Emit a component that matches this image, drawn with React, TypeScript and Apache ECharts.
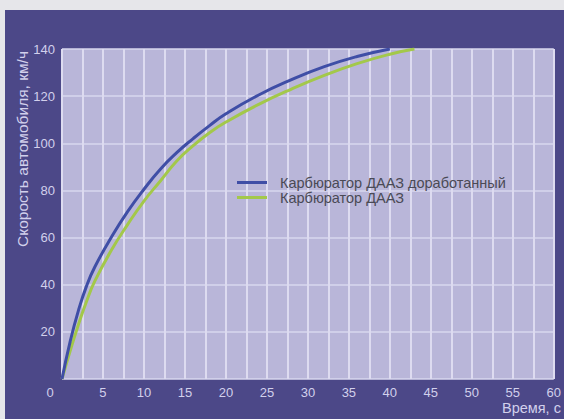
import React, { useEffect, useRef } from "react";
import * as echarts from "echarts";

const seriesNames = ["Карбюратор ДААЗ доработанный", "Карбюратор ДААЗ"];
const blueTime = [0, 1, 2, 3, 4, 6, 8, 10, 12, 14, 16, 18, 20, 24, 28, 32, 36, 40];
const blueSpeed = [0, 16, 29, 39.5, 47.5, 60, 71, 80.5, 89, 96, 102, 107.5, 112.5, 120.5, 127, 132.5, 136.8, 140];
const greenTime = [0, 1, 2, 3, 4, 6, 8, 10, 12, 14, 16, 18, 20, 24, 28, 32, 36, 40, 43];
const greenSpeed = [0, 12, 23, 33, 41.5, 54.5, 65.5, 75.5, 84, 92.5, 99, 104.5, 109, 116.5, 123, 128.8, 133.8, 137.8, 140];
const yAxisTitle = "Скорость автомобиля, км/ч";
const xAxisTitle = "Время, с";

export default function App() {
  const ref = useRef<HTMLDivElement>(null);
  useEffect(() => {
    if (!ref.current) return;
    const chart = echarts.init(ref.current, undefined, { renderer: "svg" });
    const textColor = "#d2d0ec";
    const font = "Liberation Sans, Arial, sans-serif";
    chart.setOption({
      animation: false,
      backgroundColor: "#e6e6ea",
      graphic: [
        {
          type: "rect",
          z: -10,
          shape: { x: 5, y: 10, width: 600, height: 420 },
          style: { fill: "#4c4888" },
        },
        {
          type: "text",
          x: 50,
          y: 392,
          style: {
            text: "0",
            fill: textColor,
            font: `13px ${font}`,
            textAlign: "center",
            textVerticalAlign: "middle",
          },
        },
        {
          type: "text",
          x: 502,
          y: 408,
          style: {
            text: xAxisTitle,
            fill: textColor,
            font: `14.5px ${font}`,
            textAlign: "left",
            textVerticalAlign: "middle",
          },
        },
        {
          type: "text",
          x: 22,
          y: 149,
          rotation: Math.PI / 2,
          style: {
            text: yAxisTitle,
            fill: textColor,
            font: `15.5px ${font}`,
            textAlign: "center",
            textVerticalAlign: "middle",
          },
        },
      ],
      grid: {
        left: 62,
        top: 49,
        right: 6,
        bottom: 40,
        show: true,
        backgroundColor: "#b9b6d9",
        borderWidth: 0,
      },
      legend: {
        left: 232,
        top: 170,
        orient: "vertical",
        icon: "rect",
        itemWidth: 30,
        itemHeight: 3,
        itemGap: 0,
        textStyle: {
          color: "#4a4a55",
          fontSize: 14.5,
          fontFamily: font,
          padding: [0, 0, 0, 8],
        },
        data: seriesNames,
      },
      xAxis: {
        type: "value",
        min: 0,
        max: 60,
        interval: 2.5,
        axisLine: { show: false },
        axisTick: { show: false },
        axisLabel: {
          color: textColor,
          fontSize: 13,
          fontFamily: font,
          margin: 7,
          formatter: (v: number) => (v % 5 === 0 && v !== 0 ? String(v) : ""),
        },
        splitLine: { show: true, lineStyle: { color: "#dddbf0", width: 2 } },
      },
      yAxis: {
        type: "value",
        min: 0,
        max: 140,
        interval: 20,
        axisLine: { show: false },
        axisTick: { show: false },
        axisLabel: {
          color: textColor,
          fontSize: 13,
          fontFamily: font,
          margin: 7,
          formatter: (v: number) => (v === 0 ? "" : String(v)),
        },
        splitLine: { show: true, lineStyle: { color: "#d9d7ee", width: 1.5 } },
      },
      series: [
        {
          name: seriesNames[0],
          type: "line",
          smooth: 0.5,
          showSymbol: false,
          lineStyle: { color: "#3f4ea6", width: 3 },
          itemStyle: { color: "#3f4ea6" },
          data: blueTime.map((t, i) => [t, blueSpeed[i]]),
          z: 3,
        },
        {
          name: seriesNames[1],
          type: "line",
          smooth: 0.5,
          showSymbol: false,
          lineStyle: { color: "#a3c84a", width: 3 },
          itemStyle: { color: "#a3c84a" },
          data: greenTime.map((t, i) => [t, greenSpeed[i]]),
          z: 2,
        },
      ],
    });
    return () => chart.dispose();
  }, []);
  return (
    <div
      ref={ref}
      style={{ position: "absolute", left: 0, top: 0, width: 564, height: 419 }}
    />
  );
}
